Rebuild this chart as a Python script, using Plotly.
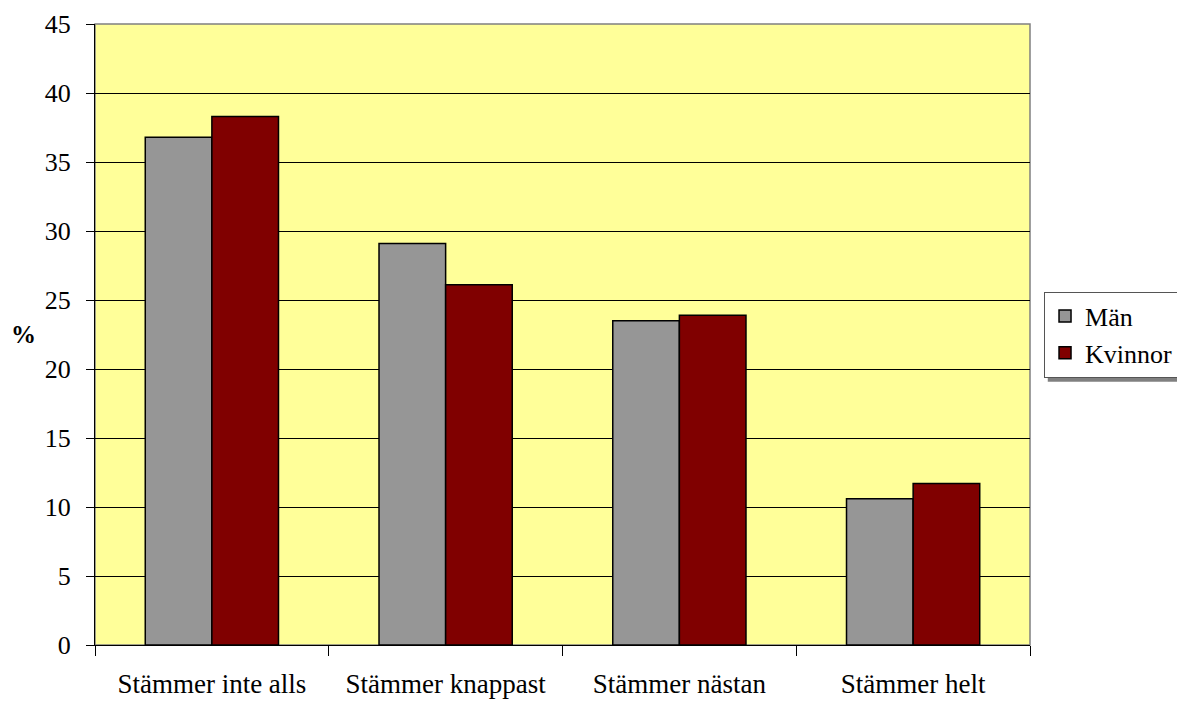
import plotly.graph_objects as go

categories = ["Stämmer inte alls", "Stämmer knappast", "Stämmer nästan", "Stämmer helt"]
man = [36.8, 29.1, 23.5, 10.6]
kvinnor = [38.3, 26.1, 23.9, 11.7]
y_ticks = [0, 5, 10, 15, 20, 25, 30, 35, 40, 45]

font_family = "Liberation Serif"

fig = go.Figure()
fig.add_trace(go.Bar(
    name="Män", x=categories, y=man,
    marker=dict(color="#969696", line=dict(color="#000000", width=1.5)),
))
fig.add_trace(go.Bar(
    name="Kvinnor", x=categories, y=kvinnor,
    marker=dict(color="#800000", line=dict(color="#000000", width=1.5)),
))

fig.update_layout(
    width=1177, height=701,
    margin=dict(l=95, r=147, t=24, b=56, autoexpand=False),
    paper_bgcolor="white",
    plot_bgcolor="#FFFF99",
    barmode="group",
    bargap=0.43,
    bargroupgap=0,
    font=dict(family=font_family, size=26, color="#000000"),
    showlegend=True,
    legend=dict(
        x=1.015, y=0.5, xanchor="left", yanchor="middle",
        bordercolor="#555555", borderwidth=1, bgcolor="white",
        font=dict(family=font_family, size=26),
        itemwidth=30, tracegroupgap=0,
    ),
    xaxis=dict(
        type="category", automargin=False,
        showline=True, linecolor="#000000", linewidth=1,
        ticks="outside", tickson="boundaries", ticklen=10, tickcolor="#000000",
        tickfont=dict(family=font_family, size=27),
        ticklabelstandoff=15,
        showgrid=False, mirror=False,
    ),
    yaxis=dict(
        range=[0, 45], tickvals=y_ticks, automargin=False,
        showline=True, linecolor="#000000", linewidth=1,
        ticks="outside", ticklen=8, tickcolor="#000000",
        tickfont=dict(family=font_family, size=26),
        ticklabelstandoff=10,
        showgrid=True, gridcolor="#000000", gridwidth=1,
        zeroline=False,
    ),
    annotations=[dict(
        text="<b>%</b>", xref="paper", yref="paper",
        x=-0.076, y=0.5, xanchor="center", yanchor="middle",
        showarrow=False, font=dict(family=font_family, size=25),
    )],
    shapes=[
        # plot-area frame
        dict(type="rect", xref="paper", yref="paper", x0=0, y0=0, x1=1, y1=1,
             line=dict(color="#808080", width=1.5), layer="below"),
        # drop shadow behind the legend box
        dict(type="rect", xref="paper", yref="paper",
             x0=1.019, x1=1.16, y0=0.424, y1=0.56,
             fillcolor="#808080", line=dict(width=0), layer="above"),
    ],
)

fig.write_html("out.html")
